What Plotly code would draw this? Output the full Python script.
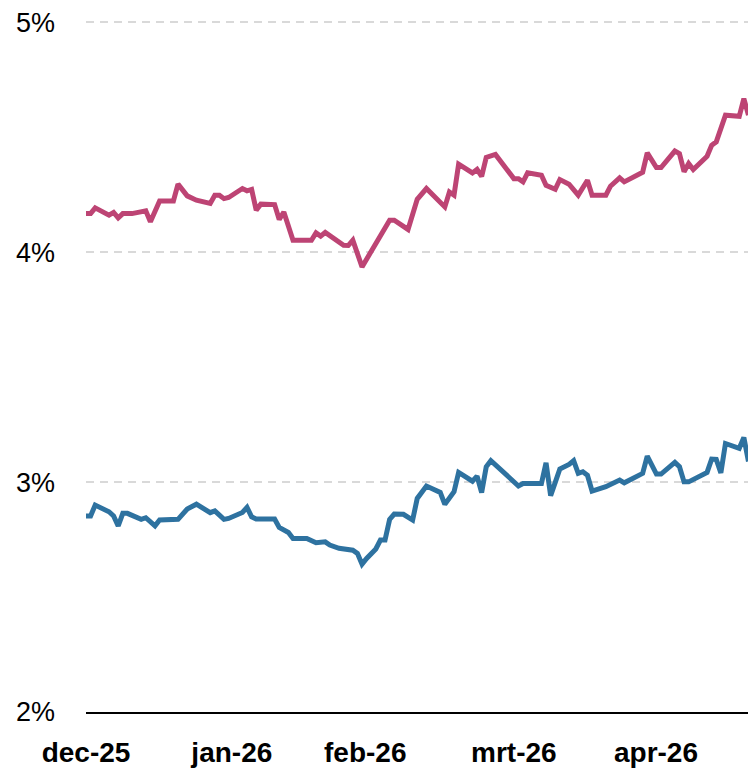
import plotly.graph_objects as go

# Day offsets from 1 Dec 2025 and yields (%)
pink_days = [0, 1, 2, 5, 6, 7, 8, 10, 13, 14, 16, 19, 20, 22, 24, 27, 28, 29, 30, 31,
             34, 35, 36, 37, 38, 41, 42, 43, 45, 49, 50, 51, 52, 56, 57, 58, 60, 64, 66, 67,
             70, 72, 74, 78, 79, 80, 81, 84, 85, 86, 87, 89, 93, 94, 95, 96, 99, 100, 102, 103,
             105, 107, 109, 110, 113, 114, 116, 117, 121, 122, 124, 125, 128, 129, 130, 131, 132,
             135, 136, 137, 139, 142, 143, 144]
pink_vals = [4.168, 4.168, 4.193, 4.161, 4.173, 4.149, 4.168, 4.168, 4.180, 4.132, 4.223, 4.223,
             4.296, 4.245, 4.226, 4.212, 4.248, 4.248, 4.233, 4.238, 4.277, 4.267, 4.273, 4.183,
             4.209, 4.207, 4.142, 4.175, 4.052, 4.052, 4.084, 4.070, 4.086, 4.030, 4.029, 4.052,
             3.936, 4.067, 4.139, 4.139, 4.099, 4.230, 4.277, 4.197, 4.262, 4.248, 4.383, 4.345,
             4.360, 4.330, 4.412, 4.425, 4.320, 4.320, 4.306, 4.345, 4.335, 4.291, 4.274, 4.316,
             4.296, 4.248, 4.313, 4.248, 4.248, 4.287, 4.323, 4.306, 4.348, 4.432, 4.368, 4.368,
             4.440, 4.429, 4.350, 4.386, 4.360, 4.417, 4.465, 4.480, 4.596, 4.591, 4.668, 4.596]

blue_days = [0, 1, 2, 5, 6, 7, 8, 9, 12, 13, 15, 16, 20, 22, 24, 27, 28, 30, 31, 34,
             35, 36, 37, 41, 42, 44, 45, 48, 50, 52, 53, 55, 58, 59, 60, 61, 63, 64, 65, 66,
             67, 69, 71, 72, 74, 77, 78, 80, 81, 84, 85, 86, 87, 88, 92, 94, 95, 99, 100, 101,
             102, 103, 105, 106, 107, 108, 109, 110, 113, 115, 116, 117, 121, 122, 124, 125, 128,
             129, 130, 131, 135, 136, 137, 138, 139, 142, 143, 144]
blue_vals = [2.853, 2.853, 2.900, 2.871, 2.853, 2.809, 2.864, 2.864, 2.838, 2.845, 2.810, 2.835,
             2.838, 2.883, 2.904, 2.867, 2.875, 2.838, 2.842, 2.868, 2.890, 2.849, 2.839, 2.839,
             2.803, 2.781, 2.755, 2.755, 2.736, 2.740, 2.726, 2.712, 2.704, 2.690, 2.643, 2.668,
             2.709, 2.748, 2.748, 2.838, 2.861, 2.860, 2.835, 2.929, 2.983, 2.955, 2.903, 2.958,
             3.042, 3.004, 3.026, 2.955, 3.067, 3.093, 3.020, 2.983, 2.994, 2.994, 3.084, 2.941,
             2.999, 3.057, 3.077, 3.093, 3.038, 3.045, 3.030, 2.961, 2.980, 3.001, 3.009, 2.997,
             3.038, 3.113, 3.035, 3.035, 3.086, 3.067, 3.001, 3.001, 3.042, 3.100, 3.099, 3.040,
             3.168, 3.147, 3.194, 3.090]

month_ticks = [0, 31.7, 60.7, 93, 123.9]
month_labels = ["dec-25", "jan-26", "feb-26", "mrt-26", "apr-26"]
y_ticks = [2, 3, 4, 5]
y_labels = ["2%", "3%", "4%", "5%"]

FONT = "Liberation Sans, Arial, sans-serif"

fig = go.Figure()
fig.add_trace(go.Scatter(x=blue_days, y=blue_vals, mode="lines",
                         line=dict(color="#2e72a0", width=5), showlegend=False,
                         hoverinfo="skip"))
fig.add_trace(go.Scatter(x=pink_days, y=pink_vals, mode="lines",
                         line=dict(color="#bd4474", width=5), showlegend=False,
                         hoverinfo="skip"))

fig.update_layout(
    width=748, height=769,
    margin=dict(l=86, r=0, t=20, b=57, autoexpand=False),
    paper_bgcolor="white", plot_bgcolor="white",
    font=dict(family=FONT, color="black"),
    xaxis=dict(range=[0, 143.9], tickvals=month_ticks, ticktext=month_labels,
               tickfont=dict(size=28, family=FONT, weight="bold"),
               showgrid=False, zeroline=False, showline=True, linecolor="black", linewidth=2,
               ticks="", ticklabelstandoff=14, automargin=False),
    yaxis=dict(range=[2, 5.01], tickvals=y_ticks, ticktext=y_labels,
               tickfont=dict(size=27, family=FONT),
               showgrid=True, gridcolor="#d9d9d9", gridwidth=2, griddash="8px,6px",
               zeroline=False, showline=False, ticks="", ticklabelstandoff=30,
               automargin=False),
)

fig.write_html("out.html", config={"displayModeBar": False, "staticPlot": True})

# remove the browser's default page margin so the figure sits at the top-left corner
with open("out.html", "r", encoding="utf-8") as f:
    html = f.read()
html = html.replace("<head>", "<head><style>html,body{margin:0;padding:0;overflow:hidden;}</style>", 1)
with open("out.html", "w", encoding="utf-8") as f:
    f.write(html)
